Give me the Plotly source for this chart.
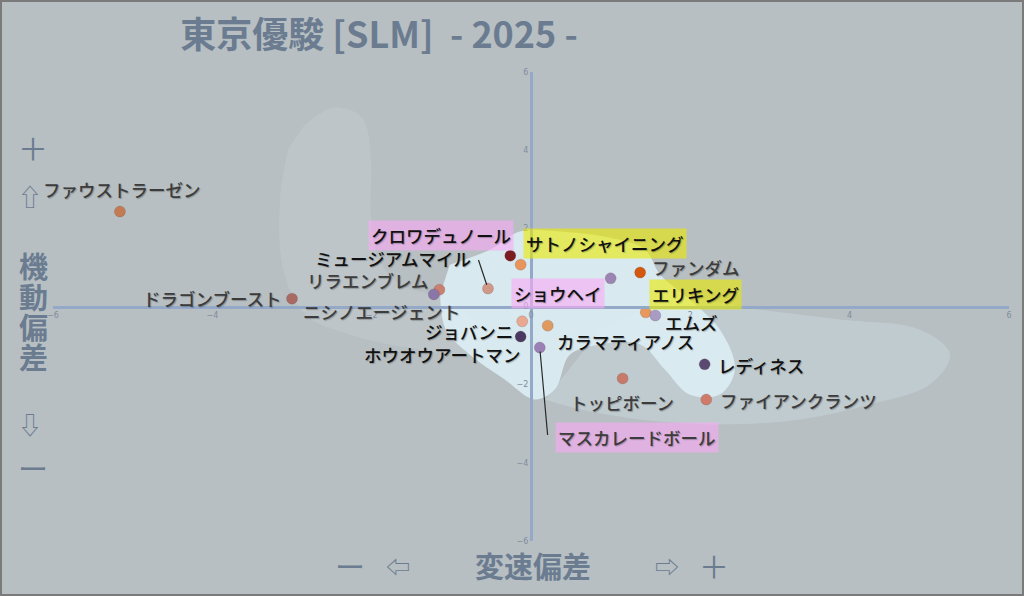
import plotly.graph_objects as go

# horse names and their deviations (x: 変速偏差, y: 機動偏差)
horses = ['ファウストラーゼン', 'ドラゴンブースト', 'リラエンブレム', 'ニシノエージェント',
          'ミュージアムマイル', 'クロワデュノール', 'サトノシャイニング', 'ショウヘイ',
          'ファンダム', 'エリキング', 'エムズ', 'ジョバンニ', 'ホウオウアートマン',
          'カラマティアノス', 'マスカレードボール', 'レディネス', 'トッピボーン',
          'ファイアンクランツ']
speed_dev = [-5.16, -3.00, -1.15, -1.22, -0.54, -0.26, -0.13, 1.00, 1.37,
             1.44, 1.56, -0.13, -0.11, 0.21, 0.11, 2.18, 1.15, 2.20]
mobility_dev = [2.43, 0.20, 0.43, 0.31, 0.46, 1.30, 1.07, 0.72, 0.87,
                -0.15, -0.23, -0.77, -0.38, -0.49, -1.05, -1.48, -1.84, -2.38]
point_colors = ['#c47a52', '#a86a62', '#c98070', '#8a76a8', '#d09888', '#7a1c20',
                '#e8945a', '#9c84b4', '#d4580e', '#e8985c', '#a89cc4', '#4a3860',
                '#eaa890', '#e09a60', '#9a80b4', '#5a4a72', '#c87a6a', '#d07a6a']

top3 = ['クロワデュノール', 'マスカレードボール', 'ショウヘイ']
picks = ['サトノシャイニング', 'エリキング']

tick_vals = [-6, -4, -2, 0, 2, 4, 6]

# density-like background regions (data units)
arm_x = [-2.84, -2.46, -2.12, -2.01, -2.01, -1.92, -1.64, -1.08, -0.64, -0.77,
         -1.39, -2.27, -2.84, -3.11, -3.15, -3.05]
arm_y = [4.65, 5.09, 4.83, 3.76, 2.35, 1.25, 0.56, 0.18, -0.59, -1.23,
         -1.10, -0.72, -0.20, 0.95, 2.74, 4.02]
band_x = [0.87, 1.87, 2.87, 3.88, 4.88, 5.26, 5.01, 4.25, 3.38, 2.37, 1.37, 0.61, 0.18]
band_y = [-0.59, 0.18, -0.08, -0.33, -0.59, -1.23, -1.99, -2.51, -2.89, -3.02,
          -2.89, -2.63, -2.38]
core_x = [-1.02, -0.51, -0.14, 0.36, 0.99, 1.43, 1.62, 1.99, 2.37, 2.56, 2.37,
          1.99, 1.68, 1.37, 0.87, 0.49, 0.30, 0.05, -0.33, -0.77, -1.07, -1.14]
core_y = [1.07, 1.46, 1.92, 1.92, 1.76, 1.46, 0.82, 0.18, -0.59, -1.61, -2.25,
          -2.25, -1.61, -0.97, -0.97, -1.23, -2.12, -2.38, -1.87, -1.23, -0.59, 0.31]

# label placement: (xanchor, xshift px, yshift px)
label_pos = {
    'ファウストラーゼン': ('center', 2, 22),
    'ドラゴンブースト': ('right', -7, 0),
    'リラエンブレム': ('right', -7, 9),
    'ニシノエージェント': ('center', -52, -17),
    'ミュージアムマイル': ('right', -14, 30),
    'クロワデュノール': ('center', -69, 20),
    'サトノシャイニング': ('center', 84, 21),
    'ショウヘイ': ('center', -53, -15),
    'ファンダム': ('left', 9, 5),
    'エリキング': ('center', 50, 18),
    'エムズ': ('left', 7, -7),
    'ジョバンニ': ('right', -5, 5),
    'ホウオウアートマン': ('center', -80, -33),
    'カラマティアノス': ('left', 6, -16),
    'マスカレードボール': ('center', 97, -90),
    'レディネス': ('left', 10, -1),
    'トッピボーン': ('center', -1, -24),
    'ファイアンクランツ': ('left', 11, -1),
}
dark_labels = ['サトノシャイニング', 'ショウヘイ', 'エリキング', 'エムズ', 'ジョバンニ',
               'ホウオウアートマン', 'カラマティアノス', 'レディネス', 'クロワデュノール',
               'ミュージアムマイル']
leaders = {'ミュージアムマイル': (-10, -30), 'マスカレードボール': (8, 89)}

BG = '#b7bfc2'
AXIS = '#94a9c8'
TITLE_C = '#6b7c91'
JP = 'Noto Sans CJK JP'

W, H = 1024, 596
ML, MR, MT, MB = 53, 15, 72, 55
PW, PH = W - ML - MR, H - MT - MB


def paper_x(px):
    return (px - ML) / PW


def paper_y(py):
    return 1 - (py - MT) / PH


fig = go.Figure()

for xs, ys, fc in [(arm_x, arm_y, 'rgba(200,210,214,0.35)'),
                   (band_x, band_y, 'rgba(210,226,234,0.35)'),
                   (core_x, core_y, 'rgba(222,240,247,0.85)')]:
    fig.add_trace(go.Scatter(x=xs, y=ys, mode='lines', fill='toself', fillcolor=fc,
                             line=dict(width=0, shape='spline', smoothing=1.0),
                             hoverinfo='skip', showlegend=False))

fig.add_trace(go.Scatter(x=speed_dev, y=mobility_dev, mode='markers', text=horses,
                         marker=dict(size=11, color=point_colors,
                                     line=dict(width=0.6, color='rgba(90,70,70,0.35)')),
                         hovertemplate='%{text}<br>%{x:.2f}, %{y:.2f}<extra></extra>',
                         showlegend=False))

annotations = []
for name, x, y in zip(horses, speed_dev, mobility_dev):
    anchor, dx, dy = label_pos[name]
    bg = None
    if name in top3:
        bg = 'rgba(250,170,245,0.6)'
    elif name in picks:
        bg = 'rgba(235,235,0,0.6)'
    color = '#111111' if name in dark_labels else '#3c3c3c'
    annotations.append(dict(x=x, y=y, xref='x', yref='y', text=name, showarrow=False,
                            xanchor=anchor, yanchor='middle', xshift=dx, yshift=dy,
                            font=dict(family=JP, size=17.5, color=color, weight=500,
                                      shadow='1px 1px 1px rgba(0,0,0,0.25)'),
                            bgcolor=bg, borderpad=2))
    if name in leaders:
        ax, ay = leaders[name]
        annotations.append(dict(x=x, y=y, xref='x', yref='y', text='', showarrow=True,
                                ax=ax, ay=ay, arrowhead=0, arrowwidth=1.2,
                                arrowcolor='#2a2a2a', standoff=4))

# side / bottom captions
side = [('＋', 33, 147, 30, 'normal'), ('⇧', 30, 195, 24, 'normal'),
        ('機', 33, 265, 29, 'bold'), ('動', 33, 296, 29, 'bold'),
        ('偏', 33, 326, 29, 'bold'), ('差', 33, 356, 29, 'bold'),
        ('⇩', 30, 423, 24, 'normal'), ('ー', 33, 467, 30, 'normal'),
        ('ー', 350, 565, 30, 'normal'), ('⇦', 398, 565, 24, 'normal'),
        ('変速偏差', 533, 565, 29, 'bold'), ('⇨', 667, 565, 24, 'normal'),
        ('＋', 714, 565, 30, 'normal')]
for txt, px, py, sz, wt in side:
    annotations.append(dict(x=paper_x(px), y=paper_y(py), xref='paper', yref='paper',
                            text=txt, showarrow=False, xanchor='center', yanchor='middle',
                            font=dict(family=JP, size=sz, color=TITLE_C, weight=wt)))

fig.update_layout(
    width=W, height=H,
    margin=dict(l=ML, r=MR, t=MT, b=MB),
    paper_bgcolor=BG, plot_bgcolor=BG,
    title=dict(text='東京優駿 [SLM]  - 2025 -', x=379 / W, y=1 - 35 / H,
               xref='container', yref='container', xanchor='center', yanchor='middle',
               font=dict(family=JP, size=36, color=TITLE_C, weight='bold')),
    xaxis=dict(range=[-6, 6], tickvals=tick_vals, showgrid=False, zeroline=False,
               showline=True, linecolor=AXIS, linewidth=3, anchor='free', position=0.5,
               ticks='', tickfont=dict(size=8, color='#7f8c9c', family='DejaVu Sans')),
    yaxis=dict(range=[-6, 6], tickvals=tick_vals, showgrid=False, zeroline=False,
               showline=True, linecolor=AXIS, linewidth=3, anchor='free', position=0.5,
               ticks='', tickfont=dict(size=8, color='#7f8c9c', family='DejaVu Sans')),
    annotations=annotations,
    shapes=[dict(type='rect', xref='paper', yref='paper',
                 x0=paper_x(1), x1=paper_x(W - 1), y0=paper_y(H - 1), y1=paper_y(1),
                 line=dict(color='#7a7a7a', width=2), layer='above')],
    showlegend=False,
)

# drop the default page margin so the 1024x596 figure sits flush in the window
fig.write_html('out.html', config={'displayModeBar': False},
               post_script="document.body.style.margin='0';"
                           "document.body.style.overflow='hidden';")
